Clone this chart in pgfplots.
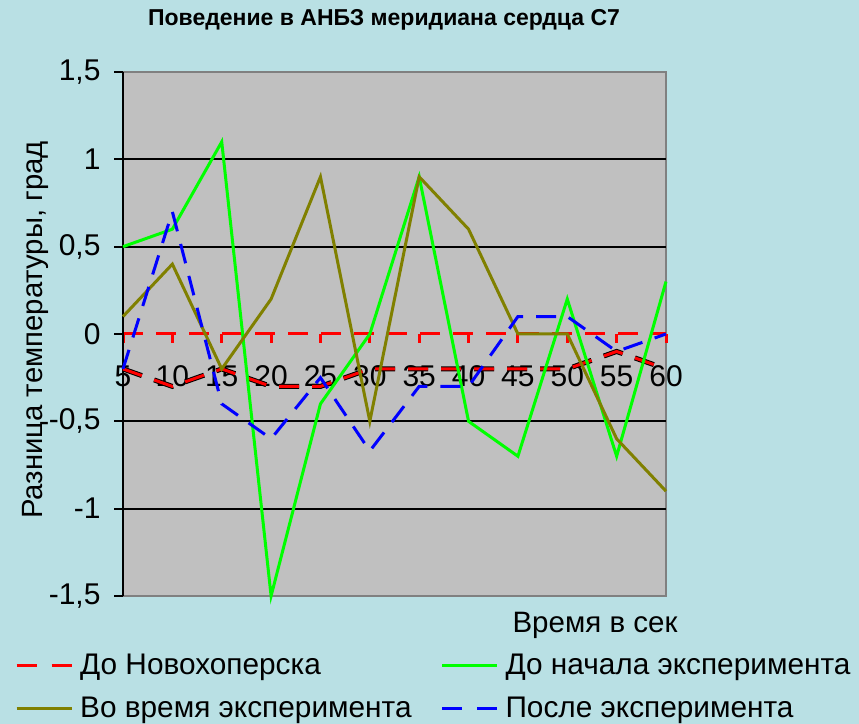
\documentclass[border=0pt]{standalone}
\usepackage{pgfplots}
\pgfplotsset{compat=1.18}
\usepackage{fontspec}
\setmainfont{Liberation Sans}
\definecolor{bgblue}{RGB}{185,224,228}
\definecolor{plotgray}{RGB}{192,192,192}
\definecolor{olivec}{RGB}{128,128,0}
\definecolor{bordergray}{RGB}{128,128,128}

\pgfplotstableread{
x  nov   start  during after
5  -0.2  0.5    0.1   -0.2
10 -0.3  0.6    0.4    0.7
15 -0.2  1.1   -0.2   -0.4
20 -0.3 -1.5    0.2   -0.6
25 -0.3 -0.4    0.9   -0.25
30 -0.2  0.0   -0.5   -0.67
35 -0.2  0.9    0.9   -0.3
40 -0.2 -0.5    0.6   -0.3
45 -0.2 -0.7    0.0    0.1
50 -0.2  0.2    0.0    0.1
55 -0.1 -0.7   -0.6   -0.1
60 -0.2  0.3   -0.9    0.0
}\datatable

\begin{document}
\begin{tikzpicture}[x=1bp,y=1bp]
\fill[bgblue, use as bounding box] (0,0) rectangle (859,724);
\node[font=\fontsize{23bp}{26bp}\selectfont\bfseries] at (384,704) {Поведение в АНБЗ меридиана сердца С7};
\node[rotate=90, font=\fontsize{29.3bp}{33bp}\selectfont] at (35,394) {Разница температуры, град};
\node[font=\fontsize{29.5bp}{33bp}\selectfont] at (595,99) {Время в сек};
\begin{axis}[
  at={(123bp,128bp)}, anchor=south west,
  width=543bp, height=524bp, scale only axis,
  xmin=5, xmax=60, ymin=-1.5, ymax=1.5,
  axis y line=left, axis x line=middle,
  hide obscured x ticks=false, hide obscured y ticks=false,
  axis background/.style={fill=plotgray, draw=bordergray, line width=2bp},
  y axis line style={-, black, line width=2bp},
  x axis line style={-, red, line width=3bp, dash pattern=on 20bp off 13bp},
  xtick={5,10,...,60},
  xtick style={red, line width=3bp},
  ytick={-1.5,-1,-0.5,0,0.5,1,1.5},
  yticklabels={{-1,5},{-1},{-0,5},{0},{0,5},{1},{1,5}},
  ytick style={black, line width=2bp},
  tick align=outside,
  major tick length=9bp,
  extra y ticks={-1,-0.5,0.5,1},
  extra y tick labels={},
  extra y tick style={grid=major, major grid style={black, line width=2bp}},
  /pgf/number format/assume math mode=true,
  tick label style={font=\fontsize{30bp}{34bp}\selectfont},
  xticklabel style={yshift=-19bp},
  yticklabel style={xshift=-10bp},
  clip=false,
  legend columns=2,
  legend cell align=left,
  legend style={at={(axis description cs:-0.199,-0.111)}, anchor=north west,
    draw=none, fill=none, inner sep=0pt, row sep=21bp,
    font=\fontsize{29.8bp}{34bp}\selectfont,
    nodes={inner xsep=7bp, inner ysep=0bp},
    /tikz/column 2/.style={column sep=22bp}},
  legend image code/.code={\draw[#1] (0bp,0bp) -- (55bp,0bp);},
]
\addplot[black, line width=5bp, dash pattern=on 20bp off 13bp, forget plot] table[x=x, y=nov] {\datatable};
\addplot[red, line width=3bp, dash pattern=on 20bp off 13bp, forget plot] table[x=x, y=nov] {\datatable};
\addplot[green, line width=3bp, forget plot] table[x=x, y=start] {\datatable};
\addplot[olivec, line width=3bp, forget plot] table[x=x, y=during] {\datatable};
\addplot[blue, line width=3bp, dash pattern=on 20bp off 13bp, forget plot] table[x=x, y=after] {\datatable};
\addlegendimage{red, line width=3bp, dash pattern=on 20bp off 15bp}
\addlegendentry{До Новохоперска}
\addlegendimage{green, line width=3bp}
\addlegendentry{До начала эксперимента}
\addlegendimage{olivec, line width=3bp}
\addlegendentry{Во время эксперимента}
\addlegendimage{blue, line width=3bp, dash pattern=on 20bp off 15bp}
\addlegendentry{После эксперимента}
\end{axis}
\end{tikzpicture}
\end{document}
